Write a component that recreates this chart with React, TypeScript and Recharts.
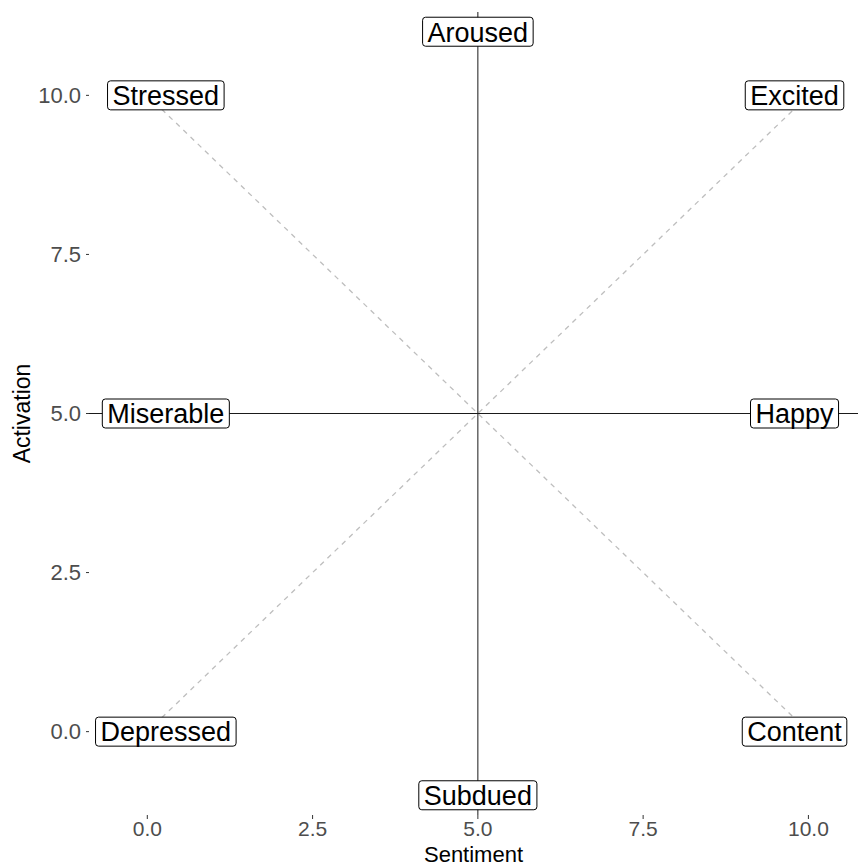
import React from 'react';
import { ComposedChart, XAxis, YAxis, Scatter, ReferenceLine } from 'recharts';

const labelNames = ['Aroused', 'Subdued', 'Stressed', 'Excited', 'Miserable', 'Happy', 'Depressed', 'Content'];
const labelX = [5, 5, 0.28, 9.79, 0.28, 9.79, 0.28, 9.79];
const labelY = [11, -1, 10, 10, 5, 5, 0, 0];
const xTicks = [0, 2.5, 5, 7.5, 10];
const yTicks = [0, 2.5, 5, 7.5, 10];
const diag1 = [{ x: 0, y: 0 }, { x: 10, y: 10 }];
const diag2 = [{ x: 0, y: 10 }, { x: 10, y: 0 }];

const data = labelNames.map((name, i) => ({ name, x: labelX[i], y: labelY[i] }));

const FONT = "'Liberation Sans', Arial, Helvetica, sans-serif";
const LABEL_SIZE = 27;

let ctx: CanvasRenderingContext2D | null = null;
function measure(text: string): number {
  if (!ctx) {
    const c = document.createElement('canvas');
    ctx = c.getContext('2d');
  }
  if (!ctx) return text.length * LABEL_SIZE * 0.55;
  ctx.font = `${LABEL_SIZE}px ${FONT}`;
  return ctx.measureText(text).width;
}

const BoxLabel = (props: any) => {
  const { cx, cy, payload } = props;
  if (cx == null || cy == null) return null;
  const name = payload.name as string;
  const w = measure(name) + 10;
  const h = 29;
  return (
    <g>
      <rect x={cx - w / 2} y={cy - h / 2} width={w} height={h} rx={3} ry={3} fill="#ffffff" stroke="#000000" strokeWidth={1} />
      <text x={cx} y={cy + 9.8} textAnchor="middle" fontSize={LABEL_SIZE} fontFamily={FONT} fill="#000000">
        {name}
      </text>
    </g>
  );
};

const YTitle = (props: any) => {
  const vb = props.viewBox || { x: 0, y: 0, width: 0, height: 0 };
  const x = vb.x + 30;
  const y = vb.y + vb.height / 2;
  return (
    <text x={x} y={y} transform={`rotate(-90 ${x} ${y})`} textAnchor="middle" fontSize={23} fontFamily={FONT} fill="#000000">
      Activation
    </text>
  );
};

const XTitle = (props: any) => {
  const vb = props.viewBox || { x: 0, y: 0, width: 0, height: 0 };
  const x = vb.x + vb.width / 2;
  const y = vb.y + vb.height - 4;
  return (
    <text x={x} y={y} textAnchor="middle" fontSize={22} fontFamily={FONT} fill="#000000">
      Sentiment
    </text>
  );
};

export default function App() {
  return (
    <div style={{ position: 'absolute', left: 0, top: 0, width: 858, height: 866, background: '#ffffff', overflow: 'hidden' }}>
      <ComposedChart width={858} height={866} data={data} margin={{ top: 12, right: 0, bottom: 0, left: 0 }}>
        <XAxis
          type="number"
          dataKey="x"
          domain={[-0.882, 10.75]}
          allowDataOverflow
          ticks={xTicks}
          tickFormatter={(v: number) => v.toFixed(1)}
          axisLine={false}
          tickLine={{ stroke: '#333333' }}
          tickSize={4}
          tickMargin={2}
          height={51}
          tick={{ fill: '#4D4D4D', fontSize: 21, fontFamily: FONT }}
          label={<XTitle />}
        />
        <YAxis
          type="number"
          dataKey="y"
          domain={[-1.31, 11.31]}
          allowDataOverflow
          ticks={yTicks}
          tickFormatter={(v: number) => v.toFixed(1)}
          axisLine={false}
          tickLine={{ stroke: '#333333' }}
          tickSize={3}
          tickMargin={5}
          width={89}
          tick={{ fill: '#4D4D4D', fontSize: 22, fontFamily: FONT }}
          label={<YTitle />}
        />
        <ReferenceLine segment={diag1} stroke="#BEBEBE" strokeDasharray="5 5" strokeWidth={1.3} ifOverflow="visible" />
        <ReferenceLine segment={diag2} stroke="#BEBEBE" strokeDasharray="5 5" strokeWidth={1.3} ifOverflow="visible" />
        <ReferenceLine x={5} stroke="#1a1a1a" strokeWidth={1} />
        <ReferenceLine y={5} stroke="#1a1a1a" strokeWidth={1} />
        <Scatter dataKey="y" isAnimationActive={false} shape={<BoxLabel />} />
      </ComposedChart>
    </div>
  );
}
